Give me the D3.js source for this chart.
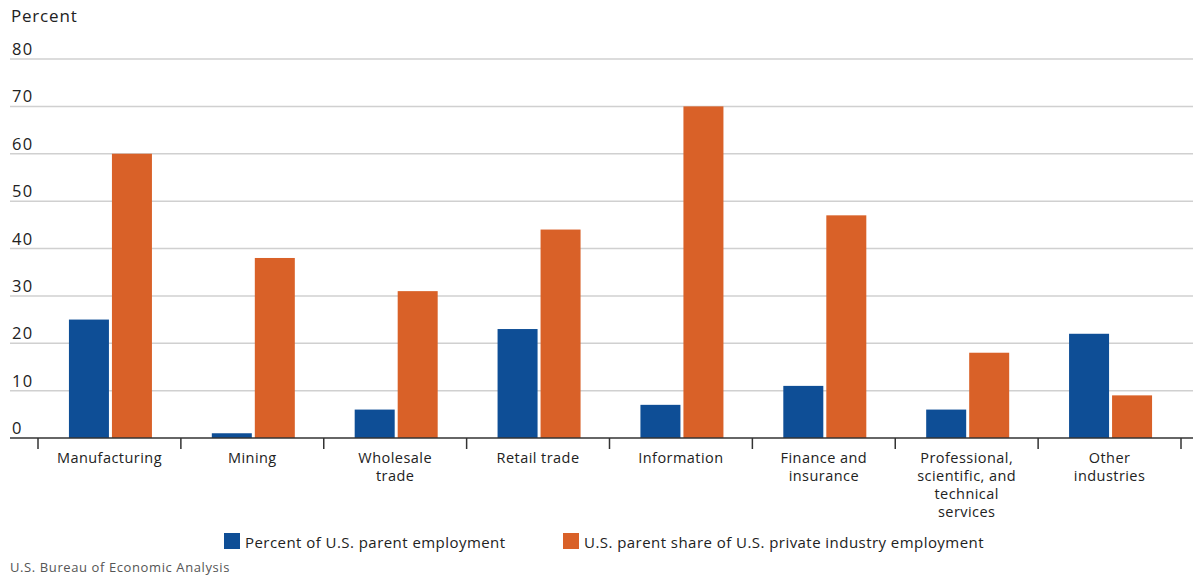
<!DOCTYPE html>
<html><head><meta charset="utf-8">
<script src="https://cdn.jsdelivr.net/npm/d3@7"></script>
<style>body{margin:0;background:#fff}svg{display:block;font-family:"Open Sans",Lato,sans-serif}</style>
</head><body><svg id="c" width="1193" height="577"></svg>
<script>
const categories = [["Manufacturing"],["Mining"],["Wholesale","trade"],["Retail trade"],["Information"],["Finance and","insurance"],["Professional,","scientific, and","technical","services"],["Other","industries"]];
const parentEmployment = [25,1,6,23,7,11,6,22];
const parentShare = [60,38,31,44,70,47,18,9];
const seriesNames = ["Percent of U.S. parent employment","U.S. parent share of U.S. private industry employment"];
const yTicks = [0,10,20,30,40,50,60,70,80];
const colors = ["#0e4e96","#d96128"];

const svg = d3.select("#c");
const x = d3.scaleBand().domain(d3.range(categories.length)).range([38,1181]);
const y = d3.scaleLinear().domain([0,80]).range([438,59]);
const bw = 40, gap = 3;

svg.append("g").selectAll("line").data(yTicks.filter(d=>d>0)).join("line")
  .attr("x1",10).attr("x2",1193).attr("y1",d=>y(d)).attr("y2",d=>y(d))
  .attr("stroke","#d0d0d0").attr("stroke-width",1.5);
svg.append("g").selectAll("text").data(yTicks).join("text")
  .attr("x",12).attr("y",d=>y(d)-4).text(d=>d)
  .attr("font-size",16.5).attr("letter-spacing",1.2).attr("fill","#222");
svg.append("text").attr("x",11).attr("y",22).text("Percent").attr("font-size",17).attr("letter-spacing",0.8).attr("fill","#222");

const series = [parentEmployment,parentShare];
series.forEach((s,si)=>{
  svg.append("g").selectAll("rect").data(s).join("rect")
    .attr("x",(d,i)=>x(i)+x.bandwidth()/2 - bw - gap/2 + si*(bw+gap) + 1)
    .attr("y",d=>y(d)).attr("width",bw).attr("height",d=>y(0)-y(d))
    .attr("fill",colors[si]);
});

svg.append("line").attr("x1",10).attr("x2",1193).attr("y1",438).attr("y2",438).attr("stroke","#333").attr("stroke-width",1.5);
const tickPos = d3.range(categories.length+1).map(i=> i<categories.length ? x(i) : x(i-1)+x.bandwidth());
svg.append("g").selectAll("line").data(tickPos).join("line")
  .attr("x1",d=>d).attr("x2",d=>d).attr("y1",438).attr("y2",449).attr("stroke","#333").attr("stroke-width",1.5);
const lab = svg.append("g").selectAll("text").data(categories).join("text")
  .attr("x",(d,i)=>x(i)+x.bandwidth()/2).attr("y",463).attr("text-anchor","middle")
  .attr("font-size",14.5).attr("letter-spacing",0.45).attr("fill","#222");
lab.each(function(d){
  const t=d3.select(this);
  d.forEach((l,k)=>t.append("tspan").attr("x",t.attr("x")).attr("dy",k?18:0).text(l));
});

const lx=[224,563];
seriesNames.forEach((n,i)=>{
  svg.append("rect").attr("x",lx[i]).attr("y",533).attr("width",16).attr("height",16).attr("fill",colors[i]);
  svg.append("text").attr("x",lx[i]+21).attr("y",548).text(n).attr("font-size",15).attr("letter-spacing",0.45).attr("fill","#222");
});
svg.append("text").attr("x",10).attr("y",572).text("U.S. Bureau of Economic Analysis").attr("font-size",13).attr("letter-spacing",0.6).attr("fill","#555");
</script></body></html>
